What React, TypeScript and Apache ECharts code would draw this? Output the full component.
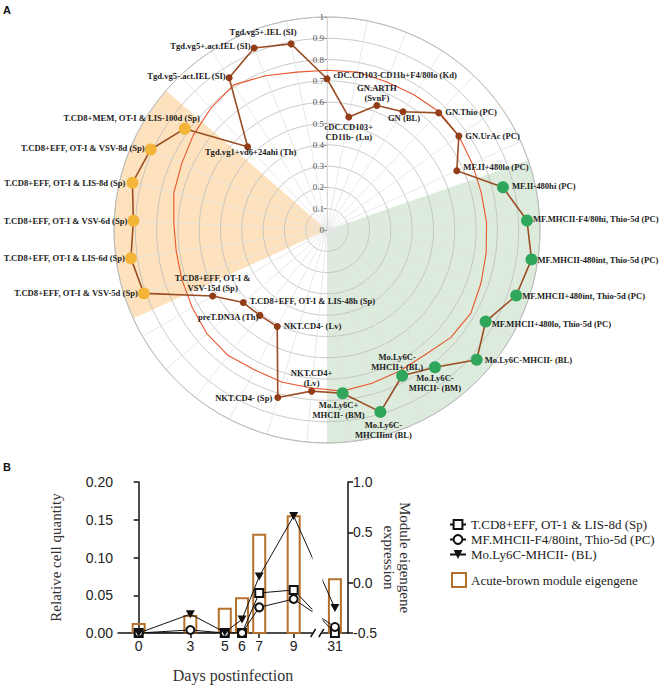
import React, { useEffect, useRef } from 'react';
import * as echarts from 'echarts';

// ---------- Panel A data ----------
const CATEGORIES = [
  'cDC.CD103-CD11b+F4/80lo (Kd)',
  'cDC.CD103+CD11b- (Lu)',
  'GN.ARTH (SvnF)',
  'GN (BL)',
  'GN.Thio (PC)',
  'GN.UrAc (PC)',
  'MF.II+480lo (PC)',
  'MF.II-480hi (PC)',
  'MF.MHCII-F4/80hi, Thio-5d (PC)',
  'MF.MHCII-480int, Thio-5d (PC)',
  'MF.MHCII+480int, Thio-5d (PC)',
  'MF.MHCII+480lo, Thio-5d (PC)',
  'Mo.Ly6C-MHCII- (BL)',
  'Mo.Ly6C-MHCII- (BM)',
  'Mo.Ly6C-MHCII+ (BL)',
  'Mo.Ly6C-MHCIIint (BL)',
  'Mo.Ly6C+MHCII- (BM)',
  'NKT.CD4+ (Lv)',
  'NKT.CD4- (Sp)',
  'NKT.CD4- (Lv)',
  'preT.DN3A (Th)',
  'T.CD8+EFF, OT-I & LIS-48h (Sp)',
  'T.CD8+EFF, OT-I & VSV-15d (Sp)',
  'T.CD8+EFF, OT-I & VSV-5d (Sp)',
  'T.CD8+EFF, OT-I & LIS-6d (Sp)',
  'T.CD8+EFF, OT-I & VSV-6d (Sp)',
  'T.CD8+EFF, OT-I & LIS-8d (Sp)',
  'T.CD8+EFF, OT-I & VSV-8d (Sp)',
  'T.CD8+MEM, OT-I & LIS-100d (Sp)',
  'Tgd.vg1+vd6+24ahi (Th)',
  'Tgd.vg5-.act.IEL (SI)',
  'Tgd.vg5+.act.IEL (SI)',
  'Tgd.vg5+.IEL (SI)',
];

const MODULE_VALUES = [
  0.71, 0.54, 0.63, 0.66, 0.76, 0.76, 0.67, 0.85, 0.94, 0.97, 0.94,
  0.86, 0.93, 0.82, 0.77, 0.89, 0.77, 0.76, 0.82, 0.51, 0.51, 0.52,
  0.62, 0.91, 0.93, 0.91, 0.94, 0.91, 0.82, 0.54, 0.85, 0.92, 0.89,
];

const REFERENCE_VALUES = [
  0.75, 0.755, 0.75, 0.755, 0.765, 0.76, 0.75, 0.745, 0.75, 0.755, 0.765,
  0.78, 0.77, 0.745, 0.745, 0.75, 0.76, 0.745, 0.745, 0.74, 0.75, 0.745,
  0.73, 0.72, 0.715, 0.72, 0.74, 0.75, 0.77, 0.79, 0.81, 0.78, 0.755,
];

// group: b = other, g = macrophage/monocyte block, y = CD8 effector block
const GROUPS = [
  'b', 'b', 'b', 'b', 'b', 'b', 'b', 'g', 'g', 'g', 'g',
  'g', 'g', 'g', 'g', 'g', 'g', 'b', 'b', 'b', 'b', 'b',
  'b', 'y', 'y', 'y', 'y', 'y', 'y', 'b', 'b', 'b', 'b',
];

// shaded blocks (category boundaries)
const GREEN_BLOCK = [6.5, 16.5];
const ORANGE_BLOCK = [22.5, 28.5];

// ---------- Panel B data ----------
const DAYS = [0, 3, 5, 6, 7, 9, 31];
const DAY_TICKS = [0, 3, 5, 6, 7, 9, 31];
const DAY_BREAK = [10.1, 30.24];
const TCD8_LIS8D = [0, null, 0, 0, 0.053, 0.057, 0];
const MF_MHCII = [0, 0.004, 0, 0, 0.034, 0.045, 0.008];
const MO_LY6C = [0, 0.025, 0.001, 0.018, 0.075, 0.155, 0.033];
const EIGENGENE = [-0.41, -0.33, -0.26, -0.155, 0.475, 0.66, 0.035];
const LEFT_AXIS = [0, 0.2, 0.05];
const RIGHT_AXIS = [-0.5, 1.0, 0.5];

const SERIES_NAMES = [
  'T.CD8+EFF, OT-1 & LIS-8d (Sp)',
  'MF.MHCII-F4/80int, Thio-5d (PC)',
  'Mo.Ly6C-MHCII- (BL)',
];
const BAR_NAME = 'Acute-brown module eigengene';

// ---------- label layout (styling only) ----------
// [position, distance, dx, dy, first line (for wrapped labels)]
const LABEL_LAYOUT: any[] = [
  ['right', 3, 0, -4],
  ['bottom', 1, 0, 0, 'cDC.CD103+'],
  ['top', -1, 0, 0, 'GN.ARTH'],
  ['bottom', -2, 1, 0],
  ['right', 3, 0, -1],
  ['right', 3, 0, 0],
  ['right', 3, 0, -4],
  ['right', 3, 0, -1],
  ['right', 0, 0, -1],
  ['right', 0, 0, 1],
  ['right', 0, 0, 1],
  ['right', 0, 0, 2],
  ['right', 2, 0, 0],
  ['bottom', 0, 0, 0, 'Mo.Ly6C-'],
  ['top', -2, -5, 0, 'Mo.Ly6C-'],
  ['bottom', 2, 3, 0, 'Mo.Ly6C-'],
  ['bottom', 1, -4, 0, 'Mo.Ly6C+'],
  ['top', 0, 0, 0, 'NKT.CD4+'],
  ['left', 2, 0, 0],
  ['right', 3, 0, -1],
  ['left', -2, 0, 2],
  ['right', 3, 0, -2],
  ['top', 0, 0, 0, 'T.CD8+EFF, OT-I &'],
  ['left', 0, 0, 0],
  ['left', 0, 0, 0],
  ['left', 0, 0, 0],
  ['left', 1, 0, 0],
  ['left', 0, 0, -1],
  ['top', 0, -53, 0],
  ['bottom', -3, 3, 0],
  ['left', 0, 0, -2],
  ['left', 0, 0, -2],
  ['top', 3, -28, 0],
];

function labelText(i: number): string {
  const name = CATEGORIES[i];
  const first = LABEL_LAYOUT[i][4];
  if (first && name.startsWith(first)) {
    return first + '\n' + name.slice(first.length).trim();
  }
  return name;
}

const BROWN = '#933c18';
const LINE_BROWN = '#9a4e25';
const GREEN = '#2fa65c';
const YELLOW = '#f4b437';
const BAR_BROWN = '#b5712c';
const SERIF = 'Liberation Serif';

export default function App() {
  const ref = useRef<HTMLDivElement>(null);

  useEffect(() => {
    if (!ref.current) return;
    const chart = echarts.init(ref.current, undefined, { renderer: 'svg' });
    const n = CATEGORIES.length;

    const mainData: any[] = MODULE_VALUES.map((v, i) => {
      const g = GROUPS[i];
      const [pos, dist, dx, dy] = LABEL_LAYOUT[i];
      return {
        value: [v, i],
        symbolSize: g === 'b' ? 7 : 12,
        itemStyle: { color: g === 'g' ? GREEN : g === 'y' ? YELLOW : BROWN },
        label: { show: true, position: pos, distance: dist, offset: [dx, dy] },
      };
    });
    mainData.push({ value: [MODULE_VALUES[0], n], symbol: 'none', label: { show: false } });

    const refData: any[] = REFERENCE_VALUES.map((v, i) => [v, i]);
    refData.push([REFERENCE_VALUES[0], n]);

    const blocks = [
      { range: GREEN_BLOCK, color: '#dcebdc' },
      { range: ORANGE_BLOCK, color: '#fde2bd' },
    ];

    const triangleDown = 'path://M0,0L10,0L5,9Z';

    const option: any = {
      animation: false,
      backgroundColor: '#ffffff',
      graphic: [
        { id: 'lblA', type: 'text', left: 3, top: 4, style: { text: 'A', font: 'bold 11px "Liberation Sans"', fill: '#111' } },
        { id: 'lblB', type: 'text', left: 3, top: 461, style: { text: 'B', font: 'bold 11px "Liberation Sans"', fill: '#111' } },
      ],
      polar: { center: [327, 230], radius: 213 },
      angleAxis: {
        type: 'value',
        min: 0,
        max: n,
        interval: 1,
        startAngle: 90,
        clockwise: true,
        axisLabel: { show: false },
        axisTick: { show: false },
        axisLine: { lineStyle: { color: '#bdbdbd', width: 1 } },
        splitLine: { lineStyle: { color: '#e3e3e3', width: 0.8 } },
      },
      radiusAxis: {
        min: 0,
        max: 1,
        interval: 0.1,
        axisLine: { lineStyle: { color: '#d6d6d6', width: 1 } },
        axisTick: { show: true, length: 3, lineStyle: { color: '#999' } },
        axisLabel: {
          fontSize: 9,
          fontFamily: SERIF,
          color: '#555',
          margin: 3,
          formatter: (v: number) => String(Math.round(v * 10) / 10),
        },
        splitLine: { lineStyle: { color: '#bdbdbd', width: 0.8 } },
      },
      grid: { left: 118, top: 482, width: 230, height: 151 },
      xAxis: {
        type: 'value',
        min: -1.2,
        max: 31.76,
        breaks: [{ start: DAY_BREAK[0], end: DAY_BREAK[1], gap: '4%' }],
        breakArea: {
          show: true,
          itemStyle: { color: '#ffffff', borderColor: '#ffffff', borderWidth: 0, opacity: 1 },
          zigzagAmplitude: 0,
          expandOnClick: false,
        },
        axisLine: { lineStyle: { color: '#111', width: 1.5 } },
        axisTick: { customValues: DAY_TICKS, length: 5, lineStyle: { color: '#111', width: 1.5 } },
        axisLabel: {
          customValues: DAY_TICKS,
          fontSize: 14,
          fontFamily: 'Liberation Sans',
          color: '#222',
          margin: 6,
        },
        splitLine: { show: false },
        name: 'Days postinfection',
        nameLocation: 'middle',
        nameGap: 34,
        nameTextStyle: { fontFamily: SERIF, fontSize: 16, color: '#333' },
      },
      yAxis: [
        {
          type: 'value',
          position: 'left',
          min: LEFT_AXIS[0],
          max: LEFT_AXIS[1],
          interval: LEFT_AXIS[2],
          axisLine: { show: true, lineStyle: { color: '#111', width: 1.5 } },
          axisTick: { show: true, length: 5, lineStyle: { color: '#111', width: 1.5 } },
          axisLabel: {
            fontSize: 14,
            fontFamily: 'Liberation Sans',
            color: '#222',
            margin: 5,
            formatter: (v: number) => v.toFixed(2),
          },
          splitLine: { show: false },
          name: 'Relative cell quantity',
          nameLocation: 'middle',
          nameGap: 55,
          nameTextStyle: { fontFamily: SERIF, fontSize: 15, color: '#333' },
        },
        {
          type: 'value',
          position: 'right',
          min: RIGHT_AXIS[0],
          max: RIGHT_AXIS[1],
          interval: RIGHT_AXIS[2],
          axisLine: { show: true, lineStyle: { color: '#111', width: 1.5 } },
          axisTick: { show: true, length: 5, lineStyle: { color: '#111', width: 1.5 } },
          axisLabel: {
            fontSize: 14,
            fontFamily: 'Liberation Sans',
            color: '#222',
            margin: 5,
            formatter: (v: number) => v.toFixed(1),
          },
          splitLine: { show: false },
          name: 'Module eigengene\nexpression',
          nameLocation: 'middle',
          nameRotate: -90,
          nameGap: 33,
          nameTextStyle: { fontFamily: SERIF, fontSize: 15, color: '#333', lineHeight: 16 },
        },
      ],
      legend: [
        {
          orient: 'vertical',
          left: 444,
          top: 513,
          itemWidth: 16,
          itemHeight: 11,
          itemGap: 2,
          textStyle: { fontFamily: SERIF, fontSize: 13, color: '#222' },
          data: SERIES_NAMES,
          selectedMode: false,
        },
        {
          orient: 'vertical',
          left: 446,
          top: 567,
          itemWidth: 14,
          itemHeight: 14,
          textStyle: { fontFamily: SERIF, fontSize: 13, color: '#222' },
          data: [
            {
              name: BAR_NAME,
              icon: 'rect',
              itemStyle: { color: 'rgba(0,0,0,0)', borderColor: BAR_BROWN, borderWidth: 2 },
            },
          ],
          selectedMode: false,
        },
      ],
      series: [
        {
          type: 'custom',
          coordinateSystem: 'polar',
          silent: true,
          z: -1,
          data: blocks.map((b) => [1, b.range[0]]),
          renderItem: (params: any, api: any) => {
            const b = blocks[params.dataIndex];
            const c = api.coord([0, 0]);
            const p0 = api.coord([1, b.range[0]]);
            const p1 = api.coord([1, b.range[1]]);
            const r = Math.hypot(p0[0] - c[0], p0[1] - c[1]);
            const a0 = Math.atan2(p0[1] - c[1], p0[0] - c[0]);
            let a1 = Math.atan2(p1[1] - c[1], p1[0] - c[0]);
            if (a1 < a0) a1 += Math.PI * 2;
            return {
              type: 'sector',
              shape: { cx: c[0], cy: c[1], r0: 0, r, startAngle: a0, endAngle: a1, clockwise: true },
              style: { fill: b.color },
            };
          },
        },
        {
          type: 'line',
          coordinateSystem: 'polar',
          silent: true,
          z: 3,
          symbol: 'none',
          data: refData,
          lineStyle: { color: '#e8552c', width: 1.1 },
        },
        {
          type: 'line',
          coordinateSystem: 'polar',
          silent: true,
          z: 4,
          symbol: 'circle',
          data: mainData,
          lineStyle: { color: LINE_BROWN, width: 1.6 },
          label: {
            show: true,
            formatter: (p: any) => (p.dataIndex < n ? labelText(p.dataIndex) : ''),
            fontFamily: SERIF,
            fontWeight: 'bold',
            fontSize: 8.6,
            lineHeight: 10,
            color: '#1c1c1c',
          },
        },
        {
          type: 'custom',
          name: BAR_NAME,
          coordinateSystem: 'cartesian2d',
          xAxisIndex: 0,
          yAxisIndex: 1,
          z: 1,
          silent: true,
          data: DAYS.map((d, i) => [d, EIGENGENE[i]]),
          renderItem: (params: any, api: any) => {
            const top = api.coord([api.value(0), api.value(1)]);
            const base = api.coord([api.value(0), RIGHT_AXIS[0]]);
            const w = 12;
            return {
              type: 'rect',
              shape: { x: top[0] - w / 2, y: top[1], width: w, height: base[1] - top[1] },
              style: { fill: 'none', stroke: BAR_BROWN, lineWidth: 2 },
            };
          },
        },
        {
          type: 'line',
          name: SERIES_NAMES[0],
          xAxisIndex: 0,
          yAxisIndex: 0,
          z: 5,
          silent: true,
          connectNulls: true,
          symbol: 'emptyRect',
          symbolSize: 8,
          data: DAYS.map((d, i) => [d, TCD8_LIS8D[i]]),
          lineStyle: { color: '#111', width: 1 },
          itemStyle: { color: '#111', borderWidth: 1.5 },
        },
        {
          type: 'line',
          name: SERIES_NAMES[1],
          xAxisIndex: 0,
          yAxisIndex: 0,
          z: 5,
          silent: true,
          symbol: 'emptyCircle',
          symbolSize: 8,
          data: DAYS.map((d, i) => [d, MF_MHCII[i]]),
          lineStyle: { color: '#111', width: 1 },
          itemStyle: { color: '#111', borderWidth: 1.5 },
        },
        {
          type: 'line',
          name: SERIES_NAMES[2],
          xAxisIndex: 0,
          yAxisIndex: 0,
          z: 5,
          silent: true,
          symbol: triangleDown,
          symbolSize: [9, 8],
          data: DAYS.map((d, i) => [d, MO_LY6C[i]]),
          lineStyle: { color: '#111', width: 1 },
          itemStyle: { color: '#111' },
        },
      ],
    };

    chart.setOption(option);

    // axis-break marks on the x axis line, placed from the axis' own scale
    try {
      const xs = chart.convertToPixel({ xAxisIndex: 0 }, DAY_BREAK[0]) as any;
      const xe = chart.convertToPixel({ xAxisIndex: 0 }, DAY_BREAK[1]) as any;
      const y0 = chart.convertToPixel({ yAxisIndex: 0 }, LEFT_AXIS[0]) as any;
      if (typeof xs === 'number' && typeof xe === 'number' && typeof y0 === 'number') {
        chart.setOption({
          graphic: [
            { id: 'brkCover', type: 'rect', z: 100, silent: true, shape: { x: xs + 1, y: y0 - 3, width: xe - xs - 2, height: 6 }, style: { fill: '#fff' } },
            { id: 'brkL', type: 'line', z: 101, silent: true, shape: { x1: xs - 2, y1: y0 + 4, x2: xs + 3, y2: y0 - 4 }, style: { stroke: '#111', lineWidth: 1.5 } },
            { id: 'brkR', type: 'line', z: 101, silent: true, shape: { x1: xe - 3, y1: y0 + 4, x2: xe + 2, y2: y0 - 4 }, style: { stroke: '#111', lineWidth: 1.5 } },
          ],
        });
      }
    } catch (e) {
      // ignore
    }

    return () => chart.dispose();
  }, []);

  return (
    <div
      ref={ref}
      style={{ position: 'fixed', left: 0, top: 0, width: 669, height: 689, background: '#fff' }}
    />
  );
}
